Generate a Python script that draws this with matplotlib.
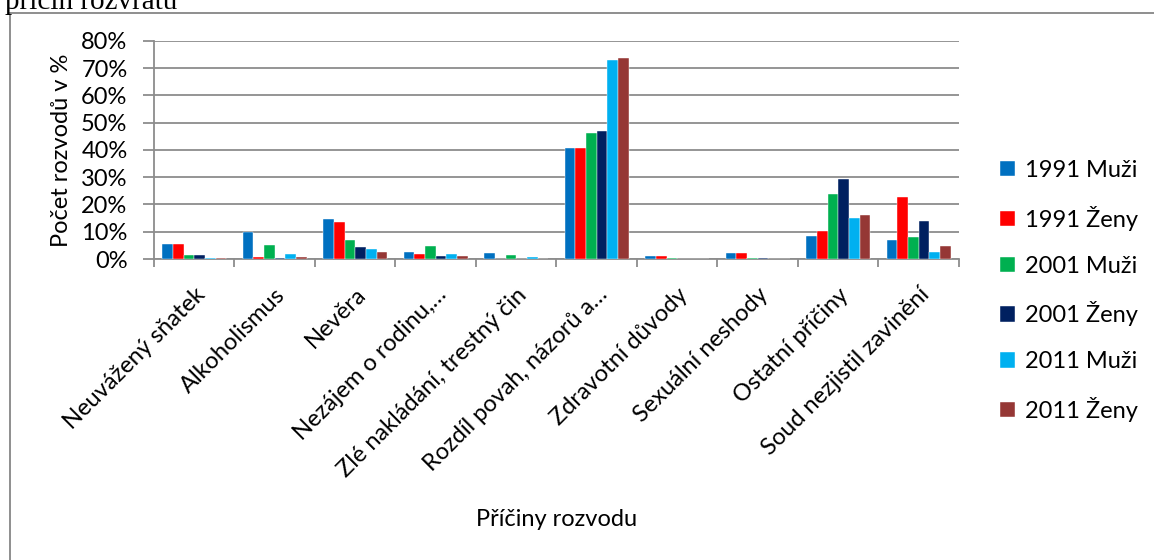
import matplotlib
matplotlib.use("Agg")
import matplotlib.pyplot as plt
import numpy as np
from matplotlib.ticker import FuncFormatter, MultipleLocator
from matplotlib.lines import Line2D
from matplotlib.transforms import ScaledTranslation

plt.rcParams['font.family'] = ['Lato', 'DejaVu Sans']

categories = ["Neuvážený sňatek", "Alkoholismus", "Nevěra", "Nezájem o rodinu,…",
              "Zlé nakládání, trestný čin", "Rozdíl povah, názorů a…",
              "Zdravotní důvody", "Sexuální neshody", "Ostatní příčiny",
              "Soud nezjistil zavinění"]
series_names = ["1991 Muži", "1991 Ženy", "2001 Muži", "2001 Ženy", "2011 Muži", "2011 Ženy"]
muzi_1991 = [5.5, 9.9, 14.6, 2.6, 2.3, 40.7, 1.0, 2.2, 8.3, 6.8]
zeny_1991 = [5.5, 0.9, 13.4, 2.0, 0.0, 40.7, 1.0, 2.2, 10.1, 22.9]
muzi_2001 = [1.4, 5.0, 7.1, 4.7, 1.5, 46.3, 0.2, 0.3, 23.9, 8.0]
zeny_2001 = [1.4, 0.3, 4.5, 1.1, 0.0, 46.8, 0.0, 0.3, 29.4, 13.9]
muzi_2011 = [0.2, 2.0, 3.6, 1.7, 0.6, 72.9, 0.0, 0.0, 15.2, 2.6]
zeny_2011 = [0.2, 0.7, 2.5, 1.0, 0.0, 73.9, 0.0, 0.0, 16.0, 4.8]
series = [muzi_1991, zeny_1991, muzi_2001, zeny_2001, muzi_2011, zeny_2011]
colors = ["#0070C0", "#FF0000", "#00B050", "#002060", "#00B0F0", "#953735"]

FS = 17

fig = plt.figure(figsize=(11.54, 5.6), dpi=100)
ax = fig.add_axes([0.1334, 0.5375, 0.6976, 0.3893])

n = len(series)
bw = 0.1325
x = np.arange(len(categories))
for i, (vals, c, name) in enumerate(zip(series, colors, series_names)):
    ax.bar(x + (i - (n - 1) / 2) * bw, vals, width=bw, color=c, label=name,
           edgecolor='white', linewidth=0.3, zorder=3)

ax.set_xlim(-0.5, len(categories) - 0.5)
ax.set_ylim(0, 80)
ax.yaxis.set_major_locator(MultipleLocator(10))
ax.yaxis.set_major_formatter(FuncFormatter(lambda v, p: f"{int(round(v))}%"))
ax.grid(axis='y', color='#8c8c8c', linewidth=1.3, zorder=0)
for s in ['top', 'right']:
    ax.spines[s].set_visible(False)
for s in ['left', 'bottom']:
    ax.spines[s].set_color('#8c8c8c')
    ax.spines[s].set_linewidth(1.3)

ax.set_xticks(np.arange(len(categories) + 1) - 0.5, minor=False)
ax.set_xticklabels([])
ax.set_xticks(x, minor=True)
ax.set_xticklabels(categories, minor=True, rotation=45, ha='right',
                   rotation_mode='anchor', fontsize=FS)
offset = ScaledTranslation(-4 / 100, 0, fig.dpi_scale_trans)
for lab in ax.get_xticklabels(minor=True):
    lab.set_transform(lab.get_transform() + offset)
ax.tick_params(axis='x', which='major', length=6, width=1.3, color='#8c8c8c')
ax.tick_params(axis='x', which='minor', length=0, pad=18)
ax.tick_params(axis='y', length=8, width=1.3, color='#8c8c8c', labelsize=FS, pad=11)

ax.set_ylabel("Počet rozvodů v %", fontsize=FS)
ax.yaxis.set_label_coords(-0.102, 0.5)
fig.text(557 / 1154, 1 - 520 / 560, "Příčiny rozvodu", ha='center', va='center', fontsize=FS)

ax.legend(loc='upper left', bbox_to_anchor=(1000 / 1154, 1 - 160 / 560), frameon=False,
          fontsize=FS, handlelength=0.62, handleheight=0.62, handletextpad=0.45,
          labelspacing=1.05, borderaxespad=0, borderpad=0,
          bbox_transform=fig.transFigure)

# outer chart frame
fig.add_artist(Line2D([10 / 1154, 10 / 1154], [0, 1 - 13 / 560], transform=fig.transFigure,
                      color='#868686', linewidth=1.3))
fig.add_artist(Line2D([10 / 1154, 1], [1 - 13 / 560, 1 - 13 / 560], transform=fig.transFigure,
                      color='#868686', linewidth=1.3))
fig.text(5 / 1154, 1 - 9 / 560, "příčin rozvratu", fontsize=21, family=['Liberation Serif'],
         ha='left', va='baseline')

fig.savefig("out.png", dpi=100)
